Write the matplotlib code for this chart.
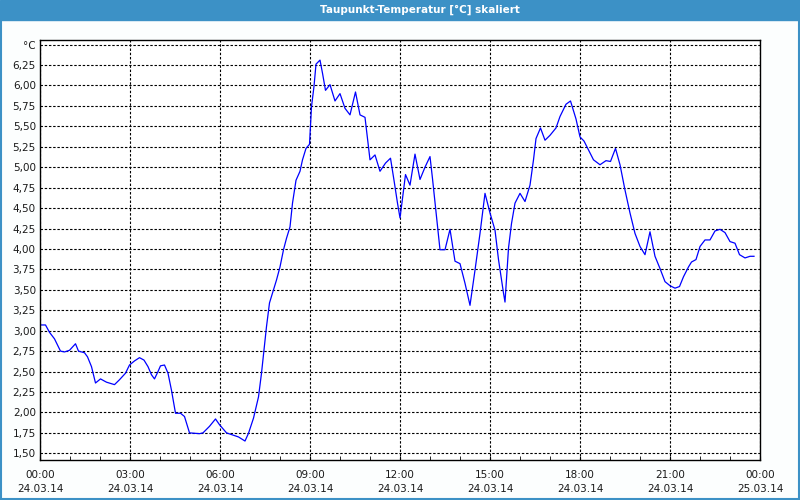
import matplotlib
matplotlib.use("Agg")
import matplotlib.pyplot as plt
import matplotlib.dates as mdates
from matplotlib.patches import Rectangle
import pandas as pd

# Taupunkt readings, minutes after 24.03.14 00:00
minutes = [
    1, 11, 19, 29, 41, 49, 59, 71, 77, 89, 95, 103, 111, 121, 133, 149, 159,
    171, 179, 189, 199, 208, 216, 223, 229, 236, 241, 249, 256, 263, 271, 281,
    289, 299, 309, 319, 326, 339, 351, 359, 373, 387, 397, 410, 417, 427, 437,
    443, 448, 453, 459, 465, 473, 480, 487, 493, 500, 505, 512, 520, 525, 532,
    539, 543, 548, 552, 560, 565, 571, 580, 590, 600, 610, 620, 631, 640, 650,
    660, 670, 680, 691, 701, 708, 715, 720, 723, 731, 740, 750, 760, 770, 780,
    785, 793, 800, 810, 820, 830, 840, 850, 860, 870, 880, 890, 900, 910, 917,
    927, 930, 937, 943, 950, 960, 970, 980, 987, 992, 1001, 1010, 1020, 1032,
    1040, 1052, 1061, 1072, 1080, 1088, 1097, 1107, 1120, 1132, 1141, 1151,
    1160, 1170, 1180, 1190, 1200, 1210, 1220, 1230, 1240, 1250, 1260, 1270,
    1279, 1287, 1297, 1303, 1312, 1320, 1330, 1340, 1350, 1360, 1370, 1380,
    1390, 1399, 1410, 1420, 1428,
]
temp = [
    3.07, 3.07, 2.98, 2.90, 2.75, 2.74, 2.76, 2.84, 2.75, 2.73, 2.68, 2.56,
    2.36, 2.41, 2.37, 2.34, 2.40, 2.48, 2.58, 2.63, 2.67, 2.64, 2.56, 2.46,
    2.41, 2.50, 2.57, 2.58, 2.48, 2.27, 1.99, 1.99, 1.95, 1.75, 1.745, 1.74,
    1.75, 1.83, 1.92, 1.85, 1.75, 1.72, 1.70, 1.65, 1.745, 1.93, 2.19, 2.48,
    2.76, 3.05, 3.34, 3.46, 3.62, 3.78, 3.99, 4.13, 4.27, 4.56, 4.84, 4.95,
    5.09, 5.23, 5.28, 5.74, 5.99, 6.26, 6.31, 6.15, 5.94, 6.01, 5.81, 5.90,
    5.72, 5.64, 5.92, 5.64, 5.61, 5.09, 5.15, 4.95, 5.05, 5.11, 4.84, 4.56,
    4.38, 4.52, 4.91, 4.78, 5.16, 4.85, 5.00, 5.13, 4.86, 4.39, 3.99, 3.99,
    4.24, 3.85, 3.82, 3.58, 3.31, 3.74, 4.19, 4.68, 4.44, 4.23, 3.87, 3.46,
    3.35, 4.01, 4.31, 4.56, 4.68, 4.58, 4.78, 5.09, 5.35, 5.48, 5.33, 5.39,
    5.48, 5.62, 5.77, 5.81, 5.59, 5.37, 5.32, 5.21, 5.09, 5.03, 5.08, 5.07,
    5.23, 5.03, 4.72, 4.44, 4.19, 4.03, 3.93, 4.21, 3.91, 3.76, 3.60, 3.55,
    3.52, 3.54, 3.66, 3.78, 3.84, 3.87, 4.03, 4.11, 4.11, 4.22, 4.24, 4.20,
    4.09, 4.07, 3.93, 3.89, 3.91, 3.91,
]

start = pd.Timestamp("2014-03-24 00:00")
end = pd.Timestamp("2014-03-25 00:00")
times = [start + pd.Timedelta(minutes=m) for m in minutes]

y_ticks = [1.50 + 0.25 * i for i in range(21)]
y_labels = [f"{v:.2f}".replace(".", ",") for v in y_ticks]
y_labels[-1] = "°C"

bar_color = "#3c91c6"

fig = plt.figure(figsize=(8, 5), dpi=100, facecolor="#fcfefe")
ax = fig.add_axes([40 / 800, 40 / 500, 720 / 800, 420 / 500])

ax.plot(times, temp, color="#0000ff", linewidth=0.9)

ax.set_xlim(start, end)
ax.set_ylim(1.418, 6.556)
ax.set_yticks(y_ticks)
ax.set_yticklabels(y_labels)

ax.xaxis.set_major_locator(mdates.HourLocator(byhour=range(0, 24, 3)))
ax.xaxis.set_minor_locator(mdates.HourLocator())
ax.xaxis.set_major_formatter(mdates.DateFormatter("%H:%M\n%d.%m.%y"))
for lbl in ax.get_xticklabels():
    lbl.set_linespacing(1.5)

ax.grid(True, which="major", color="black", linewidth=0.8,
        linestyle=(0, (2.2, 1.6)))
ax.tick_params(axis="y", length=0, pad=3, labelsize=7.5, labelcolor="#1a1a1a")
ax.tick_params(axis="x", which="both", direction="in", length=3,
               pad=7, labelsize=7.5, labelcolor="#1a1a1a")
for s in ax.spines.values():
    s.set_color("black")
    s.set_linewidth(1.0)

# title bar and frame
fig.patches.append(Rectangle((0, 1 - 20 / 500), 1, 20 / 500,
                             transform=fig.transFigure, color=bar_color,
                             zorder=0))
fig.patches.append(Rectangle((0.001, 0.002), 0.998, 0.99,
                             transform=fig.transFigure, fill=False,
                             edgecolor=bar_color, linewidth=1.5, zorder=0))
fig.text(420 / 800, 1 - 10 / 500, "Taupunkt-Temperatur [°C] skaliert",
         color="white", fontsize=7.5, fontweight="bold",
         ha="center", va="center")

fig.savefig("out.png", dpi=100, facecolor=fig.get_facecolor())
